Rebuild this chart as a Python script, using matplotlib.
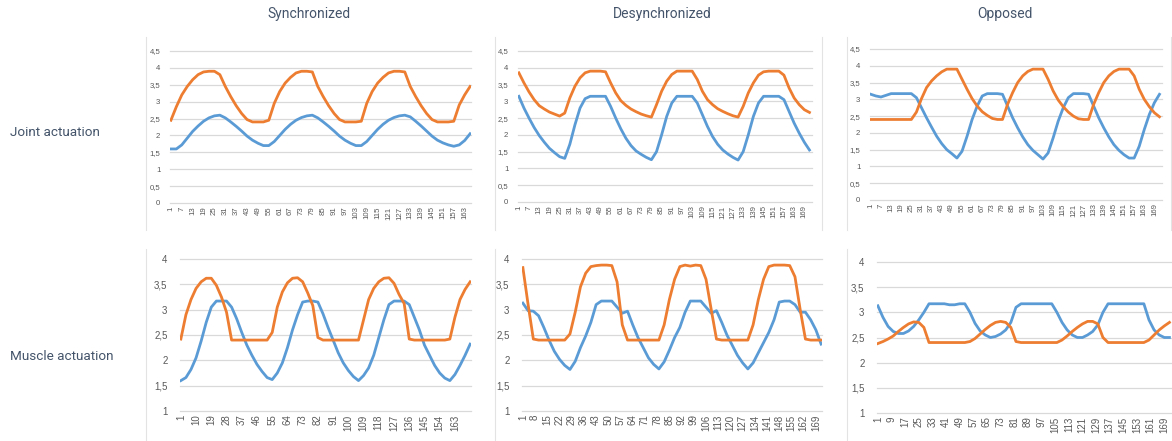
import numpy as np
import matplotlib.pyplot as plt
from matplotlib.lines import Line2D

# Values, one every 3rd sample (samples 1, 4, 7, ...)
STEP = 3

# --- Joint actuation ---
sync_joint_blue = [1.6, 1.6, 1.72, 1.92, 2.12, 2.28, 2.42, 2.52, 2.58, 2.6,
                   2.52, 2.4, 2.27, 2.13, 1.98, 1.86, 1.77, 1.7, 1.7, 1.82,
                   2.0, 2.18, 2.33, 2.45, 2.53, 2.58, 2.6, 2.52, 2.4, 2.27,
                   2.13, 1.98, 1.86, 1.77, 1.7, 1.7, 1.82, 2.0, 2.18, 2.33,
                   2.45, 2.53, 2.58, 2.6, 2.55, 2.42, 2.28, 2.13, 1.98, 1.86,
                   1.78, 1.72, 1.68, 1.72, 1.85, 2.05]
sync_joint_orange = [2.45, 2.85, 3.2, 3.45, 3.65, 3.8, 3.88, 3.9, 3.9, 3.8,
                     3.45, 3.15, 2.88, 2.65, 2.47, 2.4, 2.4, 2.4, 2.45, 2.95,
                     3.3, 3.55, 3.72, 3.85, 3.9, 3.9, 3.88, 3.45, 3.15, 2.88,
                     2.65, 2.47, 2.4, 2.4, 2.4, 2.42, 2.95, 3.3, 3.55, 3.72,
                     3.85, 3.9, 3.9, 3.88, 3.45, 3.15, 2.88, 2.65, 2.47, 2.4,
                     2.4, 2.4, 2.42, 2.9, 3.2, 3.45]

desync_joint_blue = [3.15, 2.8, 2.5, 2.22, 1.98, 1.78, 1.6, 1.47, 1.35, 1.3,
                     1.72, 2.3, 2.8, 3.08, 3.15, 3.15, 3.15, 3.15, 2.85, 2.5,
                     2.18, 1.9, 1.68, 1.52, 1.42, 1.33, 1.26, 1.5, 2.0, 2.55,
                     2.95, 3.15, 3.15, 3.15, 3.15, 2.95, 2.6, 2.25, 1.95, 1.72,
                     1.55, 1.43, 1.33, 1.25, 1.5, 2.0, 2.55, 2.95, 3.15, 3.15,
                     3.15, 3.15, 3.05, 2.7, 2.35, 2.05, 1.78, 1.55]
desync_joint_orange = [3.85, 3.55, 3.28, 3.05, 2.87, 2.77, 2.68, 2.62, 2.56, 2.65,
                       3.1, 3.45, 3.7, 3.85, 3.9, 3.9, 3.9, 3.88, 3.55, 3.25,
                       3.02, 2.88, 2.77, 2.69, 2.62, 2.57, 2.53, 2.9, 3.3, 3.6,
                       3.8, 3.9, 3.9, 3.9, 3.9, 3.65, 3.3, 3.05, 2.9, 2.78,
                       2.7, 2.63, 2.57, 2.53, 2.85, 3.25, 3.55, 3.78, 3.88, 3.9,
                       3.9, 3.9, 3.78, 3.4, 3.1, 2.9, 2.75, 2.67]

opp_joint_blue = [3.15, 3.1, 3.07, 3.12, 3.17, 3.17, 3.17, 3.17, 3.17, 3.05,
                  2.75, 2.45, 2.17, 1.9, 1.68, 1.5, 1.38, 1.25, 1.45, 1.9,
                  2.4, 2.8, 3.1, 3.17, 3.17, 3.17, 3.15, 2.8, 2.45, 2.15,
                  1.88, 1.65, 1.48, 1.35, 1.22, 1.4, 1.85, 2.35, 2.75, 3.05,
                  3.17, 3.17, 3.17, 3.15, 2.8, 2.45, 2.15, 1.88, 1.65, 1.48,
                  1.35, 1.25, 1.25, 1.6, 2.1, 2.55, 2.9, 3.15]
opp_joint_orange = [2.4, 2.4, 2.4, 2.4, 2.4, 2.4, 2.4, 2.4, 2.4, 2.62,
                    3.02, 3.35, 3.55, 3.7, 3.82, 3.9, 3.9, 3.9, 3.6, 3.3,
                    3.02, 2.8, 2.63, 2.52, 2.43, 2.4, 2.4, 2.85, 3.2, 3.5,
                    3.7, 3.83, 3.9, 3.9, 3.9, 3.6, 3.25, 2.98, 2.78, 2.62,
                    2.5, 2.42, 2.4, 2.4, 2.85, 3.2, 3.5, 3.7, 3.83, 3.9,
                    3.9, 3.9, 3.7, 3.3, 3.0, 2.78, 2.6, 2.48]

# --- Muscle actuation ---
sync_muscle_blue = [1.6, 1.66, 1.82, 2.05, 2.38, 2.75, 3.05, 3.17, 3.17, 3.17,
                    3.05, 2.82, 2.55, 2.3, 2.1, 1.92, 1.78, 1.66, 1.62, 1.75,
                    1.95, 2.25, 2.6, 2.9, 3.15, 3.17, 3.17, 3.15, 2.92, 2.65,
                    2.4, 2.15, 1.95, 1.8, 1.68, 1.6, 1.7, 1.85, 2.1, 2.45,
                    2.8, 3.1, 3.17, 3.17, 3.17, 3.1, 2.85, 2.6, 2.3, 2.1,
                    1.9, 1.75, 1.65, 1.6, 1.72, 1.9, 2.1, 2.32]
sync_muscle_orange = [2.42, 2.9, 3.2, 3.42, 3.55, 3.62, 3.62, 3.48, 3.25, 2.95,
                      2.4, 2.4, 2.4, 2.4, 2.4, 2.4, 2.4, 2.4, 2.55, 3.05,
                      3.35, 3.53, 3.62, 3.63, 3.55, 3.33, 3.08, 2.45, 2.4, 2.4,
                      2.4, 2.4, 2.4, 2.4, 2.4, 2.4, 2.8, 3.2, 3.42, 3.55,
                      3.62, 3.63, 3.52, 3.3, 3.12, 2.42, 2.4, 2.4, 2.4, 2.4,
                      2.4, 2.4, 2.4, 2.42, 2.85, 3.2, 3.4, 3.55]

desync_muscle_blue = [3.13, 2.98, 2.97, 2.88, 2.65, 2.4, 2.18, 2.02, 1.9, 1.82,
                      1.98, 2.25, 2.48, 2.75, 3.1, 3.17, 3.17, 3.17, 3.05, 2.93,
                      2.97, 2.7, 2.45, 2.25, 2.05, 1.92, 1.83, 1.97, 2.2, 2.45,
                      2.65, 2.95, 3.17, 3.17, 3.17, 3.05, 2.93, 2.98, 2.75, 2.5,
                      2.3, 2.1, 1.95, 1.83, 1.95, 2.15, 2.35, 2.55, 2.8, 3.15,
                      3.17, 3.17, 3.1, 2.95, 2.95, 2.8, 2.6, 2.32]
desync_muscle_orange = [3.83, 3.1, 2.42, 2.4, 2.4, 2.4, 2.4, 2.4, 2.4, 2.52,
                        2.95, 3.45, 3.72, 3.85, 3.87, 3.88, 3.88, 3.87, 3.55, 2.7,
                        2.4, 2.4, 2.4, 2.4, 2.4, 2.4, 2.4, 2.7, 3.2, 3.6,
                        3.85, 3.88, 3.86, 3.88, 3.87, 3.6, 3.0, 2.42, 2.4, 2.4,
                        2.4, 2.4, 2.4, 2.4, 2.7, 3.2, 3.6, 3.85, 3.88, 3.88,
                        3.88, 3.87, 3.65, 3.0, 2.42, 2.4, 2.4, 2.4]

opp_muscle_blue = [3.13, 2.9, 2.72, 2.62, 2.58, 2.58, 2.63, 2.72, 2.85, 3.0,
                   3.17, 3.17, 3.17, 3.17, 3.15, 3.15, 3.17, 3.17, 3.0, 2.78,
                   2.63, 2.55, 2.5, 2.52, 2.57, 2.65, 2.8, 3.1, 3.17, 3.17,
                   3.17, 3.17, 3.17, 3.17, 3.17, 3.0, 2.8, 2.65, 2.55, 2.5,
                   2.5, 2.55, 2.62, 2.75, 3.0, 3.17, 3.17, 3.17, 3.17, 3.17,
                   3.17, 3.17, 3.17, 2.85, 2.65, 2.55, 2.5, 2.5]
opp_muscle_orange = [2.38, 2.42, 2.47, 2.53, 2.62, 2.7, 2.77, 2.81, 2.8, 2.7,
                     2.4, 2.4, 2.4, 2.4, 2.4, 2.4, 2.4, 2.4, 2.42, 2.48,
                     2.57, 2.66, 2.74, 2.8, 2.82, 2.8, 2.7, 2.42, 2.4, 2.4,
                     2.4, 2.4, 2.4, 2.4, 2.4, 2.4, 2.45, 2.53, 2.62, 2.7,
                     2.77, 2.82, 2.82, 2.77, 2.5, 2.4, 2.4, 2.4, 2.4, 2.4,
                     2.4, 2.4, 2.4, 2.45, 2.55, 2.65, 2.73, 2.8]

joint_yticks = [0, 0.5, 1, 1.5, 2, 2.5, 3, 3.5, 4, 4.5]
joint_ylabels = ['0', '0,5', '1', '1,5', '2', '2,5', '3', '3,5', '4', '4,5']
muscle_yticks = [1, 1.5, 2, 2.5, 3, 3.5, 4]
muscle_ylabels = ['1', '1,5', '2', '2,5', '3', '3,5', '4']

col_titles = ['Synchronized', 'Desynchronized', 'Opposed']
row_titles = ['Joint actuation', 'Muscle actuation']

BLUE = '#5B9BD5'
ORANGE = '#ED7D31'
GRID = '#d9d9d9'
TICK = '#595959'
W, H = 1172, 441


def px_rect(left, top, right, bottom):
    return [left / W, 1 - bottom / H, (right - left) / W, (bottom - top) / H]


def draw(rect, blue, orange, n_cat, xstep, xlast, yticks, ylabels, fs, ypad):
    ax = fig.add_axes(rect)
    x = 1 + STEP * np.arange(len(blue))
    ax.plot(x, blue, color=BLUE, lw=2.0, solid_joinstyle='round')
    ax.plot(x, orange, color=ORANGE, lw=2.0, solid_joinstyle='round')
    ax.set_xlim(0.5, n_cat + 0.5)
    ax.set_ylim(yticks[0], yticks[-1])
    ax.set_yticks(yticks)
    ax.set_yticklabels(ylabels)
    xt = list(range(1, xlast + 1, xstep))
    ax.set_xticks(xt)
    ax.set_xticklabels([str(v) for v in xt], rotation=90)
    for y in yticks:
        ax.axhline(y, color=GRID, lw=0.9, zorder=0, clip_on=False)
    for s in ax.spines.values():
        s.set_visible(False)
    ax.tick_params(axis='both', length=0, colors=TICK, labelsize=fs)
    ax.tick_params(axis='y', pad=ypad)
    ax.tick_params(axis='x', pad=2.5)
    for lab in ax.get_xticklabels() + ax.get_yticklabels():
        lab.set_family('Liberation Sans')
    return ax


fig = plt.figure(figsize=(W / 100, H / 100), dpi=100)

# top row: joint actuation
draw(px_rect(170, 51, 471, 203), sync_joint_blue, sync_joint_orange, 166, 6, 163,
     joint_yticks, joint_ylabels, 5.6, 7)
draw(px_rect(518, 51, 812, 202), desync_joint_blue, desync_joint_orange, 173, 6, 169,
     joint_yticks, joint_ylabels, 5.6, 7)
draw(px_rect(870, 49, 1162, 200), opp_joint_blue, opp_joint_orange, 173, 6, 169,
     joint_yticks, joint_ylabels, 5.6, 7)

# bottom row: muscle actuation
draw(px_rect(180, 259, 471, 411), sync_muscle_blue, sync_muscle_orange, 172, 9, 163,
     muscle_yticks, muscle_ylabels, 7.0, 9)
draw(px_rect(522, 259, 822, 411), desync_muscle_blue, desync_muscle_orange, 172, 7, 169,
     muscle_yticks, muscle_ylabels, 7.0, 9)
draw(px_rect(877, 262, 1172, 413), opp_muscle_blue, opp_muscle_orange, 173, 8, 169,
     muscle_yticks, muscle_ylabels, 7.0, 9)

# faint chart-area borders
for xb in [146, 495, 822, 847, 1171]:
    fig.add_artist(Line2D([xb / W, xb / W], [1 - 37 / H, 1 - 230 / H],
                          color='#e3e3e3', lw=0.8))
for xb in [146, 495, 847]:
    fig.add_artist(Line2D([xb / W, xb / W], [1 - 249 / H, 0],
                          color='#e3e3e3', lw=0.8))

for xc, t in zip([309, 662, 1005], col_titles):
    fig.text(xc / W, 1 - 14 / H, t, ha='center', va='center', fontsize=10,
             color='#44546a', family='Roboto')
for yc, t in zip([133, 357], row_titles):
    fig.text(10 / W, 1 - yc / H, t, ha='left', va='center', fontsize=9.7,
             color='#44546a', family='Roboto')

fig.savefig('out.png', dpi=100)
